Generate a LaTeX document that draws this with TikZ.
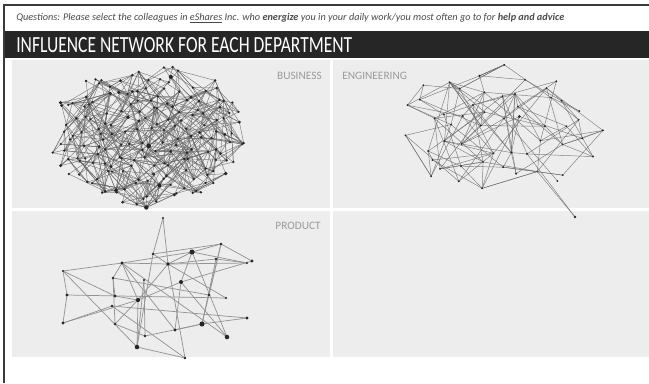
\documentclass[tikz,border=0pt]{standalone}
\usepackage{graphicx}
\usepackage{fontspec}
\setmainfont{Carlito}
\definecolor{panelc}{HTML}{EDEDED}
\definecolor{bandc}{HTML}{262626}
\definecolor{framec}{HTML}{3A3A3A}
\definecolor{qtext}{HTML}{4A4A4A}
\definecolor{labelc}{HTML}{9A9A9A}
\tikzset{
  panel/.style={fill=panelc, draw=none},
  edge/.style={draw=black!58, line width=0.35pt, opacity=0.85},
  pedge/.style={draw=black!42, line width=0.55pt},
  dot/.style={circle, fill=black!85, draw=none, inner sep=0pt},
  deptlabel/.style={text=labelc, font=\fontsize{8.5pt}{10pt}\selectfont, inner sep=0pt}
}
% network on a jittered grid inside an ellipse
% #1 prefix, #2 max col, #3 max row, #4 x0, #5 y0, #6 cell, #7 cx, #8 cy, #9 rx ; \netry, \netoff, \netdot, \netk
\newcommand\mynet[9]{%
  \foreach \c in {0,...,#2}{\foreach \r in {0,...,#3}{%
    \pgfmathsetmacro\px{#4+\c*#6+rand*0.5*#6}%
    \pgfmathsetmacro\py{#5+\r*#6+rand*0.5*#6}%
    \coordinate (#1-\c-\r) at (\px,\py);
    \pgfmathsetmacro\qa{(\px-#7)/#9}%
    \pgfmathsetmacro\qb{(\py-#8)/\netry}%
    \pgfmathsetmacro\qs{\qa*\qa+\qb*\qb}%
    \pgfmathsetmacro\qt{1.12-0.3*rnd}%
    \pgfmathtruncatemacro\inside{(\qs<\qt) ? 1 : 0}%
    \expandafter\xdef\csname #1in-\c-\r\endcsname{\inside}%
  }}%
  \foreach \c in {0,...,#2}{\foreach \r in {0,...,#3}{%
    \ifnum\csname #1in-\c-\r\endcsname=1\relax
      \foreach \k in {1,...,\netk}{%
        \pgfmathrandominteger\dc{-\netoff}{\netoff}%
        \pgfmathrandominteger\dr{-\netoff}{\netoff}%
        \pgfmathtruncatemacro\tc{max(0,min(#2,\c+\dc))}%
        \pgfmathtruncatemacro\tr{max(0,min(#3,\r+\dr))}%
        \ifnum\csname #1in-\tc-\tr\endcsname=1\relax
          \draw[edge] (#1-\c-\r) -- (#1-\tc-\tr);
        \fi
      }%
    \fi
  }}%
  \foreach \c in {0,...,#2}{\foreach \r in {0,...,#3}{%
    \ifnum\csname #1in-\c-\r\endcsname=1\relax
      \pgfmathsetmacro\ds{\netdot+2.6*rnd*rnd*rnd*rnd}%
      \node[dot, minimum size=\ds pt] (#1d-\c-\r) at (#1-\c-\r) {};
    \fi
  }}%
}
\begin{document}
\begin{tikzpicture}[x=0.75pt,y=-0.75pt]
\useasboundingbox (0,0) rectangle (649,383);
\fill[white] (0,0) rectangle (649,383);
% frame and title band
\fill[bandc] (4,31) rectangle (649,58);
\draw[framec, line width=0.9pt] (4,383) -- (4,5) -- (649,5);
\node[anchor=west, inner sep=0pt, text=qtext] (question) at (16,18)
  {\resizebox{411pt}{!}{\itshape Questions: Please select the colleagues in \underline{eShares} Inc. who \textbf{energize} you in your daily work/you most often go to for \textbf{help and advice}}};
\node[anchor=west, inner sep=0pt, text=white] (title) at (16,45.5)
  {\resizebox{252pt}{11.25pt}{INFLUENCE NETWORK FOR EACH DEPARTMENT}};
% panels
\fill[panel] (12,60) rectangle (330,208);
\fill[panel] (333,60) rectangle (649,208);
\fill[panel] (12,211) rectangle (330,357);
\fill[panel] (333,211) rectangle (649,357);
\node[deptlabel, anchor=base east] (lbus) at (322,79) {BUSINESS};
\node[deptlabel, anchor=base west] (leng) at (342,79) {ENGINEERING};
\node[deptlabel, anchor=base east] (lprod) at (321,229) {PRODUCT};
% business network
\pgfmathsetseed{17}
\def\netry{72}\def\netoff{3}\def\netdot{1.9}\def\netk{6}
\mynet{b}{18}{13}{50}{65}{11}{150}{137}{100}
\coordinate (bx) at (86,81);
\draw[edge] (bx) -- (b-6-3);
\draw[edge] (bx) -- (b-4-5);
\node[dot, minimum size=2pt] (bxd) at (bx) {};
% engineering network
\def\netry{66}\def\netoff{3}\def\netdot{1.5}\def\netk{4}
\mynet{e}{10}{6}{405}{66}{20}{505}{128}{105}
\coordinate (ex) at (575,217);
\draw[edge] (ex) -- (e-7-5);
\draw[edge] (ex) -- (e-6-4);
\node[dot, minimum size=2pt] (exd) at (ex) {};
% product network
\foreach \n/\x/\y in {1/163/218,2/153/254,3/168/264,4/192/252,5/221/244,6/216/259,7/247/263,8/252/261,
  9/122/263,10/63/271,11/113/278,12/144/280,13/181/282,14/67/295,15/115/296,16/138/300,17/112/306,
  18/209/295,19/226/298,20/63/323,21/115/324,22/145/336,23/175/330,24/202/324,25/247/318,26/227/337,
  27/137/347,28/185/358}{\coordinate (p\n) at (\x,\y);}
\foreach \a/\b in {1/2,1/3,10/9,9/3,9/4,2/5,4/5,5/8,6/7,3/7,6/24,5/18,10/14,10/15,10/27,14/19,20/14,
  20/17,15/16,11/15,11/9,9/16,9/23,12/27,12/22,16/3,16/13,16/21,16/27,13/4,13/23,13/26,13/8,23/24,
  5/24,24/25,24/22,22/21,21/11,28/27,28/3,28/17,26/4,26/9,25/17,18/11,19/3,2/27,4/7,3/6,20/16,2/3,3/4}
  {\draw[pedge] (p\a) -- (p\b);}
\foreach \n/\s in {1/1.8,2/2.0,3/2.8,4/3.8,5/2.0,6/2.0,7/1.8,8/2.4,9/2.4,10/1.8,11/2.0,12/1.8,13/3.0,
  14/2.6,15/2.6,16/3.2,17/2.0,18/2.0,19/1.8,20/2.4,21/2.0,22/2.0,23/2.4,24/3.8,25/2.6,26/3.4,27/3.4,28/2.0}
  {\node[dot, minimum size=\s pt] (pd\n) at (p\n) {};}
\end{tikzpicture}
\end{document}
